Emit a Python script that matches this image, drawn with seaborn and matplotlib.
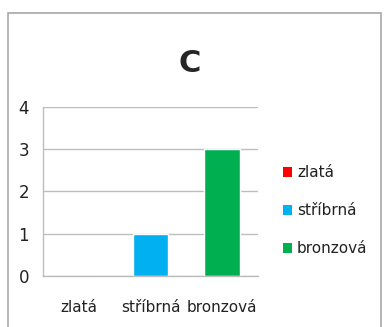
import seaborn as sns
import matplotlib.pyplot as plt
import pandas as pd
from matplotlib.patches import Rectangle, Patch

medals = ["zlatá", "stříbrná", "bronzová"]
counts = [0, 1, 3]
colors = ["#FF0000", "#00B0F0", "#00B050"]

df = pd.DataFrame({"medal": medals, "count": counts})

sns.set_style("white")
plt.rcParams["font.family"] = ["Liberation Sans Narrow", "DejaVu Sans"]

fig = plt.figure(figsize=(3.85, 3.27), dpi=100)
ax = fig.add_axes([0.112, 0.156, 0.558, 0.517])

sns.barplot(data=df, x="medal", y="count", hue="medal", palette=colors,
            width=0.5, legend=False, ax=ax, saturation=1)

ax.set_ylim(0, 4)
ax.set_xlim(-0.5, 2.5)
ax.set_yticks([0, 1, 2, 3, 4])
ax.yaxis.grid(True, color="#BDBDBD", linewidth=1)
ax.set_axisbelow(True)
ax.set_xlabel("")
ax.set_ylabel("")
for s in ["top", "right"]:
    ax.spines[s].set_visible(False)
for s in ["left", "bottom"]:
    ax.spines[s].set_color("#BDBDBD")
    ax.spines[s].set_linewidth(1)

ax.tick_params(axis="y", length=4, color="#BDBDBD", labelsize=12, pad=6, labelcolor="#222222")
ax.tick_params(axis="x", which="major", length=0, labelsize=11, pad=17, labelcolor="#222222")
ax.set_xticks([-0.5, 0.5, 1.5, 2.5], minor=True)
ax.tick_params(axis="x", which="minor", length=5, color="#BDBDBD", direction="out")

handles = [Patch(facecolor=c, edgecolor="none") for c in colors]
fig.legend(handles, medals, loc="center left", bbox_to_anchor=(0.70, 0.355),
           frameon=False, fontsize=11, handlelength=0.6, handleheight=0.6,
           handletextpad=0.3, labelspacing=1.5, labelcolor="#222222")

fig.text(0.493, 0.807, "C", ha="center", va="center", fontsize=22,
         fontweight="bold", family="DejaVu Sans")

fig.patches.append(Rectangle((8 / 385, -0.05), 373 / 385, 1.05 - 13 / 327,
                             transform=fig.transFigure, fill=False,
                             edgecolor="#A8A8A8", linewidth=1.2))

plt.savefig("out.png", dpi=100)
plt.close()
